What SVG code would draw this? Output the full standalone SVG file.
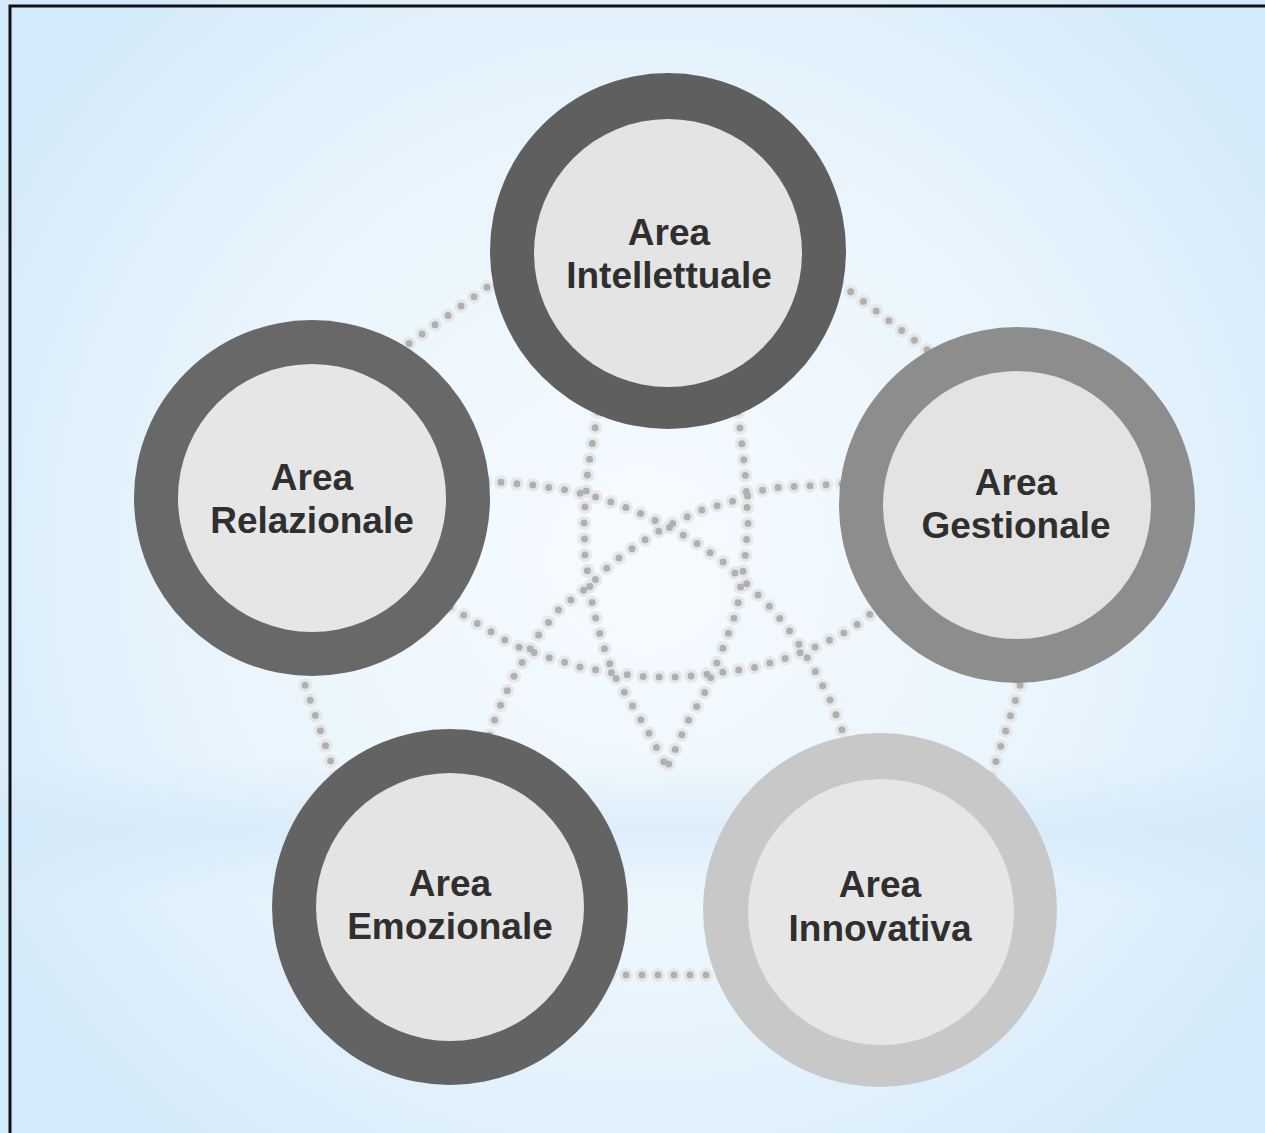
<svg xmlns="http://www.w3.org/2000/svg" width="1265" height="1133" viewBox="0 0 1265 1133">
  <defs>
    <radialGradient id="bg" cx="640" cy="560" r="760" gradientUnits="userSpaceOnUse">
      <stop offset="0" stop-color="#f6fbff"/>
      <stop offset="0.55" stop-color="#eaf5fd"/>
      <stop offset="1" stop-color="#d4eafa"/>
    </radialGradient>
    <linearGradient id="band" x1="0" y1="0" x2="0" y2="1">
      <stop offset="0" stop-color="#cfe6f8" stop-opacity="0"/>
      <stop offset="0.5" stop-color="#cfe6f8" stop-opacity="0.55"/>
      <stop offset="1" stop-color="#cfe6f8" stop-opacity="0"/>
    </linearGradient>
    <style>
      .net { fill: none; stroke: #b0b0b0; stroke-width: 7; stroke-linecap: round; stroke-dasharray: 0 16; }
      .halo { fill: none; stroke: #e4e4e4; stroke-width: 14; stroke-linecap: round; stroke-dasharray: 0 16; opacity: 0.8; }
      .lbl { font-family: "Liberation Sans", Arial, sans-serif; font-weight: 700; font-size: 37px; fill: #2f2f2f; text-anchor: middle; }
    </style>
  </defs>

  <rect x="0" y="0" width="1265" height="1133" fill="url(#bg)"/>
  <rect x="0" y="760" width="1265" height="140" fill="url(#band)"/>
  <path d="M10,1133 V6 H1265" fill="none" stroke="#111" stroke-width="3"/>

  <g id="connectors">
    <g id="halos">
      <path class="halo" d="M500,278 L400,350"/>
      <path class="halo" d="M838,282 L930,352"/>
      <path class="halo" d="M300,670 L337,780"/>
      <path class="halo" d="M1025,670 L990,780"/>
      <path class="halo" d="M610,975 L720,975"/>
      <path class="halo" d="M485,481 L532,485 L567,490 L600,498 L633,510 L667,526 L695,542 L723,562 L748,585 L773,610 L795,638 L813,667 L830,700 L848,745"/>
      <path class="halo" d="M842,484 L803,486 L768,488 L737,500 L702,510 L667,526 L640,543 L612,563 L588,587 L560,608 L537,637 L513,678 L497,713 L488,740"/>
      <path class="halo" d="M598,412 L588,468 L584,520 L585,555 L593,608 L602,642 L613,673 L632,705 L650,735 L667,768"/>
      <path class="halo" d="M738,412 L745,470 L748,523 L745,558 L737,610 L725,643 L705,692 L687,723 L667,768"/>
      <path class="halo" d="M450,607 L483,627 L513,645 L547,657 L580,667 L613,673 L648,677 L683,677 L717,673 L753,668 L787,658 L820,645 L850,630 L878,608"/>
    </g>
    <path class="net" d="M500,278 L400,350"/>
    <path class="net" d="M838,282 L930,352"/>
    <path class="net" d="M300,670 L337,780"/>
    <path class="net" d="M1025,670 L990,780"/>
    <path class="net" d="M610,975 L720,975"/>
    <path class="net" d="M485,481 L532,485 L567,490 L600,498 L633,510 L667,526 L695,542 L723,562 L748,585 L773,610 L795,638 L813,667 L830,700 L848,745"/>
    <path class="net" d="M842,484 L803,486 L768,488 L737,500 L702,510 L667,526 L640,543 L612,563 L588,587 L560,608 L537,637 L513,678 L497,713 L488,740"/>
    <path class="net" d="M598,412 L588,468 L584,520 L585,555 L593,608 L602,642 L613,673 L632,705 L650,735 L667,768"/>
    <path class="net" d="M738,412 L745,470 L748,523 L745,558 L737,610 L725,643 L705,692 L687,723 L667,768"/>
    <path class="net" d="M450,607 L483,627 L513,645 L547,657 L580,667 L613,673 L648,677 L683,677 L717,673 L753,668 L787,658 L820,645 L850,630 L878,608"/>
  </g>

  <g id="node-intellettuale">
    <circle cx="668" cy="251" r="178" fill="#5f5f5f"/>
    <circle cx="668" cy="253" r="134" fill="#e4e4e4"/>
    <text class="lbl" x="669" y="245">Area</text>
    <text class="lbl" x="669" y="288">Intellettuale</text>
  </g>

  <g id="node-relazionale">
    <circle cx="312" cy="498" r="178" fill="#686868"/>
    <circle cx="312" cy="498" r="134" fill="#e6e6e6"/>
    <text class="lbl" x="312" y="490">Area</text>
    <text class="lbl" x="312" y="533">Relazionale</text>
  </g>

  <g id="node-gestionale">
    <circle cx="1017" cy="505" r="178" fill="#8d8d8d"/>
    <circle cx="1017" cy="505" r="134" fill="#e3e3e3"/>
    <text class="lbl" x="1016" y="495">Area</text>
    <text class="lbl" x="1016" y="538">Gestionale</text>
  </g>

  <g id="node-emozionale">
    <circle cx="450" cy="907" r="178" fill="#636363"/>
    <circle cx="450" cy="907" r="134" fill="#e4e4e4"/>
    <text class="lbl" x="450" y="896">Area</text>
    <text class="lbl" x="450" y="939">Emozionale</text>
  </g>

  <g id="node-innovativa">
    <circle cx="880" cy="910" r="177" fill="#c8c8c8"/>
    <circle cx="881" cy="912" r="133" fill="#e6e6e6"/>
    <text class="lbl" x="880" y="897">Area</text>
    <text class="lbl" x="880" y="941">Innovativa</text>
  </g>
</svg>
